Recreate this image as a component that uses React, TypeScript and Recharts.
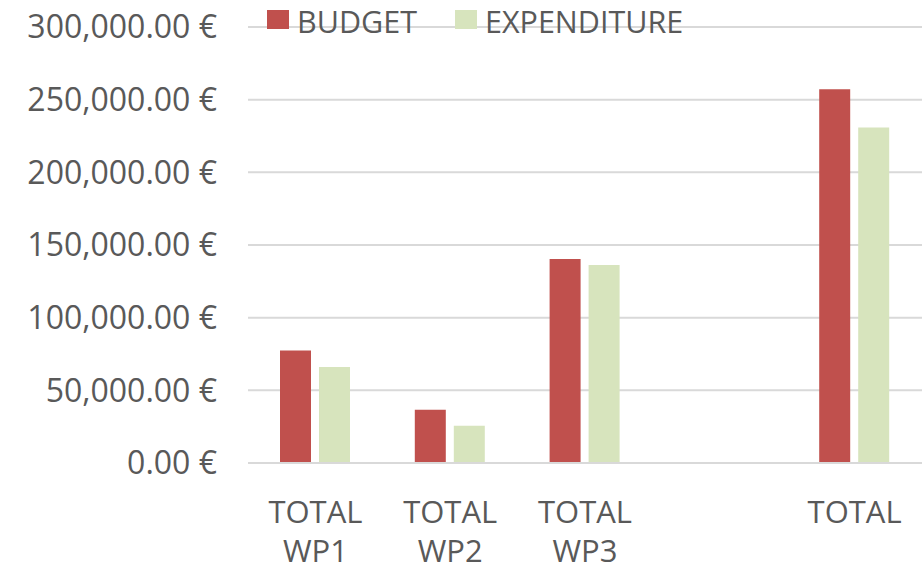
import React from 'react'
import { BarChart, Bar, XAxis, YAxis, CartesianGrid, Legend } from 'recharts'

// Work package totals
const categories = ['TOTAL WP1', 'TOTAL WP2', 'TOTAL WP3', '', 'TOTAL']
const budget = [77400, 36700, 140300, null, 257200]
const expenditure = [66000, 25700, 136200, null, 230800]
const yTicks = [0, 50000, 100000, 150000, 200000, 250000, 300000]

const RED = '#C0504D'
const GREEN = '#D7E4BD'
const TEXT = '#595959'
const GRID = '#D9D9D9'
const FONT = '"Open Sans", sans-serif'

const data = categories.map((name, i) => ({
  name,
  budget: budget[i],
  expenditure: expenditure[i],
}))

const euro = (v: number) =>
  v.toLocaleString('en-US', { minimumFractionDigits: 2, maximumFractionDigits: 2 }) + ' €'

const CategoryTick = (props: any) => {
  const { x, y, payload } = props
  const lines = String(payload.value || '').split(' ')
  return (
    <text x={x} y={y} textAnchor="middle" fill={TEXT} fontSize={31} fontFamily={FONT}>
      {lines.map((line, i) => (
        <tspan key={i} x={x} dy={i === 0 ? 52 : 39}>
          {line}
        </tspan>
      ))}
    </text>
  )
}

const LegendContent = () => {
  const items = [
    { label: 'BUDGET', color: RED },
    { label: 'EXPENDITURE', color: GREEN },
  ]
  return (
    <div style={{ display: 'flex', alignItems: 'center', gap: 38, height: 42, fontFamily: FONT, fontSize: 30.5, color: TEXT, lineHeight: 'normal', whiteSpace: 'nowrap' }}>
      {items.map((it) => (
        <div key={it.label} style={{ display: 'flex', alignItems: 'center', gap: 8 }}>
          <div style={{ width: 22, height: 19, marginTop: -4, background: it.color }} />
          <span>{it.label}</span>
        </div>
      ))}
    </div>
  )
}

export default function App() {
  return (
    <div style={{ position: 'absolute', left: 0, top: 0, width: 924, height: 570, background: '#fff' }}>
      <BarChart
        width={924}
        height={570}
        data={data}
        margin={{ top: -15, right: 2, bottom: 7, left: 0 }}
        barGap={8}
        barSize={31}
      >
        <CartesianGrid vertical={false} stroke={GRID} strokeWidth={2} />
        <XAxis
          dataKey="name"
          height={100}
          tick={<CategoryTick />}
          tickLine={false}
          axisLine={{ stroke: GRID, strokeWidth: 2 }}
          interval={0}
        />
        <YAxis
          width={248}
          domain={[0, 300000]}
          ticks={yTicks}
          tickFormatter={euro}
          axisLine={false}
          tickLine={false}
          tickMargin={25}
          tick={{ fill: TEXT, fontSize: 32, fontFamily: FONT }}
        />
        <Legend
          verticalAlign="top"
          content={<LegendContent />}
          wrapperStyle={{ top: 0, left: 267, width: 'auto' }}
        />
        <Bar dataKey="budget" name="BUDGET" fill={RED} isAnimationActive={false} />
        <Bar dataKey="expenditure" name="EXPENDITURE" fill={GREEN} isAnimationActive={false} />
      </BarChart>
    </div>
  )
}
